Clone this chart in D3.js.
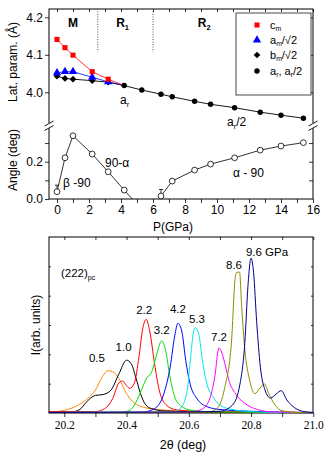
<!DOCTYPE html>
<html lang="en">
<head>
<meta charset="UTF-8">
<title>Lattice parameters, angles and (222) peaks</title>
<script src="https://cdn.jsdelivr.net/npm/d3@7"></script>
<style>
  body { margin: 0; background: #fff; }
  svg { font-family: "Liberation Sans", Arial, sans-serif; }
  .serif { font-family: "Liberation Serif", "Times New Roman", serif; }
</style>
</head>
<body>
<div id="chart"></div>
<script>
// ---- data ----
// lattice parameters (A) vs pressure (GPa)
var pMono = [0, 0.5, 1.0, 2.2, 3.2];
var cM    = [4.141, 4.119, 4.099, 4.055, 4.035];
var aM    = [4.052, 4.055, 4.055, 4.040, 4.028];
var bM    = [4.043, 4.037, 4.035, 4.031, 4.027];
var pRhom = [4.2, 5.3, 6.5, 7.2, 8.6, 9.6, 11.1, 12.7, 14.0, 15.4];
var aR    = [4.018, 4.006, 3.995, 3.988, 3.976, 3.968, 3.959, 3.947, 3.939, 3.931];

// angles (deg)
var pAngLeft  = [0, 0.5, 1.0, 2.2, 3.2, 4.2];
var angLeft   = [0.039, 0.221, 0.339, 0.241, 0.146, 0.048];
var angLeftEnd = [4.7, 0];               // where the 90-alpha line meets the axis
var pAngRight = [6.5, 7.2, 8.6, 9.6, 11.1, 12.7, 14.0, 15.4];
var angRight  = [0.016, 0.096, 0.155, 0.187, 0.221, 0.262, 0.284, 0.302];

var phaseNames = ["M", "R", "R"];
var phaseSubs  = ["", "1", "2"];
var phaseCentres = [1.0, 4.1, 9.2];      // GPa
var phaseBounds  = [2.55, 6.0];          // GPa

// (222)pc peaks: [2theta, intensity]
var specNames = ["0.5", "1.0", "2.2", "3.2", "4.2", "5.3", "7.2", "8.6", "9.6 GPa"];
var spec05 = [[20.15,0.5],[20.2,1.5],[20.25,5],[20.28,9],[20.30,13],[20.32,20],[20.34,24],[20.36,23],[20.38,18],[20.40,11],[20.42,6.5],[20.45,3.5],[20.5,2],[20.6,1],[20.75,0.5],[21.0,0.3]];
var spec10 = [[20.15,0.3],[20.22,0.5],[20.25,2],[20.27,6],[20.30,10],[20.325,10.5],[20.35,13],[20.375,22],[20.40,30],[20.415,28],[20.43,20],[20.445,11],[20.46,5],[20.48,2.5],[20.52,1.2],[20.65,0.5],[21.0,0.2]];
var spec22 = [[20.15,0.8],[20.3,0.8],[20.33,2.5],[20.355,8],[20.375,17],[20.387,18.2],[20.40,15.5],[20.41,14],[20.425,17],[20.44,32],[20.452,48],[20.463,53.2],[20.475,46],[20.49,28],[20.505,13],[20.525,5],[20.56,1.8],[20.65,0.8],[21.0,0.3]];
var spec32 = [[20.15,0.3],[20.38,0.5],[20.41,1.5],[20.43,6],[20.45,14],[20.465,20],[20.48,23],[20.495,32],[20.513,41],[20.525,36],[20.54,20],[20.555,9],[20.575,4],[20.61,1.5],[20.7,0.6],[21.0,0.3]];
var spec42 = [[20.15,0.3],[20.45,0.5],[20.49,2.5],[20.52,11],[20.54,26],[20.555,44],[20.565,51],[20.578,46],[20.59,30],[20.605,16],[20.625,8.5],[20.66,3.5],[20.7,2],[20.8,1],[20.95,0.3],[21.0,0.3]];
var spec53 = [[20.15,0.3],[20.55,0.5],[20.575,3],[20.595,13],[20.605,30],[20.615,46],[20.62,48.5],[20.632,45],[20.642,32],[20.656,18],[20.68,8.5],[20.705,4],[20.74,2],[20.8,0.8],[20.9,0.3],[21.0,0.3]];
var spec72 = [[20.15,0.3],[20.6,0.5],[20.64,2],[20.665,7],[20.683,20],[20.697,37],[20.71,32],[20.72,25],[20.73,18],[20.75,11],[20.78,5.5],[20.82,2],[20.87,0.6],[21.0,0.3]];
var spec86 = [[20.15,0.3],[20.66,0.5],[20.69,2.5],[20.715,14],[20.737,40],[20.75,78],[20.755,80],[20.763,80],[20.77,60],[20.78,36],[20.795,19],[20.812,11],[20.828,14],[20.843,16.5],[20.857,11],[20.877,4.5],[20.9,1.3],[20.95,0.3],[21.0,0.3]];
var spec96 = [[20.15,0.3],[20.6,0.6],[20.7,1],[20.74,4.5],[20.765,17],[20.78,40],[20.79,72],[20.8,88],[20.808,80],[20.818,52],[20.83,26],[20.845,13],[20.862,8.5],[20.882,11],[20.897,12.7],[20.915,7.4],[20.94,3],[20.97,0.8],[21.0,0.3]];
var spectra = [spec05, spec10, spec22, spec32, spec42, spec53, spec72, spec86, spec96];

var specColors = ["#ff8a00", "#000000", "#ff0000", "#00e000", "#0000ff", "#00e8f0", "#ff00ff", "#8c8c00", "#00008c"];
// label offset from each peak top (px)
var specLabelOffsets = [[-11,-9],[-3,-9],[-2,-5],[0,-7],[0,-10],[2,-5],[0,-7],[-3,-3],[16,-2]];

// ---- layout ----
var W = 330, H = 475;
var L = 49, R = 313;
var topY = 9, breakY = 126, midY = 199;
var bTop = 237, bBot = 413;

var svg = d3.select("#chart").append("svg")
  .attr("width", W).attr("height", H);

var xP   = d3.scaleLinear().domain([-0.5, 16]).range([L, R]);
var yLat = d3.scaleLinear().domain([4.0, 4.2]).range([92.3, 17.3]);
var yAng = d3.scaleLinear().domain([0, 0.2]).range([midY, 161.7]);
var xT   = d3.scaleLinear().domain([20.2, 21.0]).range([64.3, 313.3]);
var yI   = d3.scaleLinear().domain([0, 100]).range([bBot, bTop]);

function styleAxis(g, size) {
  g.select(".domain").remove();
  g.selectAll("line").attr("stroke", "#000").attr("stroke-width", 0.8);
  g.selectAll("text").attr("font-size", size).attr("fill", "#000");
}

// text with a subscript
function subText(sel, base, sub, rest, fs) {
  sel.append("tspan").text(base);
  if (sub) sel.append("tspan").attr("font-size", fs * 0.62).attr("dy", 2.5).text(sub);
  if (rest) sel.append("tspan").attr("dy", sub ? -2.5 : 0).text(rest);
  return sel;
}

// ================= upper panel =================
var gUp = svg.append("g");

// axes
gUp.append("g").attr("transform", "translate(0," + midY + ")")
  .call(d3.axisBottom(xP).tickValues(d3.range(0, 17)).tickSize(4).tickPadding(2)
    .tickFormat(function(d){ return d % 2 === 0 ? d : ""; }))
  .call(styleAxis, 12);
gUp.append("g").attr("transform", "translate(0," + topY + ")")
  .call(d3.axisTop(xP).tickValues(d3.range(0, 17)).tickSize(-3).tickFormat(""))
  .call(styleAxis, 12);

gUp.append("g").attr("transform", "translate(" + L + ",0)")
  .call(d3.axisLeft(yLat).tickValues([4.0, 4.1, 4.2]).tickSize(4).tickPadding(2).tickFormat(d3.format(".1f")))
  .call(styleAxis, 12);
gUp.append("g").attr("transform", "translate(" + L + ",0)")
  .call(d3.axisLeft(yAng).tickValues([0, 0.1, 0.2, 0.3]).tickSize(4).tickPadding(2)
    .tickFormat(function(d){ return (d === 0 || d === 0.2) ? d3.format(".1f")(d) : ""; }))
  .call(styleAxis, 12);
gUp.append("g").attr("transform", "translate(" + R + ",0)")
  .call(d3.axisRight(yLat).tickValues([4.0, 4.1, 4.2]).tickSize(-4).tickFormat(""))
  .call(styleAxis, 12);
gUp.append("g").attr("transform", "translate(" + R + ",0)")
  .call(d3.axisRight(yAng).tickValues([0.1, 0.2, 0.3]).tickSize(-4).tickFormat(""))
  .call(styleAxis, 12);

gUp.append("rect").attr("x", L).attr("y", topY).attr("width", R - L).attr("height", midY - topY)
  .attr("fill", "none").attr("stroke", "#000").attr("stroke-width", 1);

// axis breaks
[L, R].forEach(function(x) {
  gUp.append("rect").attr("x", x - 2).attr("y", breakY - 3).attr("width", 4).attr("height", 5).attr("fill", "#fff");
  [-2.5, 2].forEach(function(o) {
    gUp.append("line").attr("x1", x - 4.5).attr("y1", breakY + o + 2.5)
      .attr("x2", x + 4.5).attr("y2", breakY + o - 2.5)
      .attr("stroke", "#000").attr("stroke-width", 0.9);
  });
});

// phase boundaries
phaseBounds.forEach(function(p) {
  gUp.append("line").attr("x1", xP(p)).attr("x2", xP(p)).attr("y1", topY).attr("y2", 52)
    .attr("stroke", "#555").attr("stroke-width", 1).attr("stroke-dasharray", "1,1.5");
});
phaseNames.forEach(function(n, i) {
  var t = gUp.append("text").attr("x", xP(phaseCentres[i])).attr("y", 27)
    .attr("text-anchor", "middle").attr("font-size", 12).attr("font-weight", "bold");
  subText(t, n, phaseSubs[i], "", 12);
});

// lattice lines
var lineLat = d3.line().x(function(d){ return xP(d[0]); }).y(function(d){ return yLat(d[1]); });
var joinPt = [pRhom[0], aR[0]];
var cPts = pMono.map(function(p, i){ return [p, cM[i]]; });
var aPts = pMono.map(function(p, i){ return [p, aM[i]]; });
var bPts = pMono.map(function(p, i){ return [p, bM[i]]; });
var rPts = pRhom.map(function(p, i){ return [p, aR[i]]; });

gUp.append("path").attr("d", lineLat(bPts.concat(rPts))).attr("fill", "none").attr("stroke", "#000").attr("stroke-width", 0.9);
gUp.append("path").attr("d", lineLat(aPts.concat([joinPt]))).attr("fill", "none").attr("stroke", "#0000ff").attr("stroke-width", 0.8);
gUp.append("path").attr("d", lineLat(cPts.concat([joinPt]))).attr("fill", "none").attr("stroke", "#ff0000").attr("stroke-width", 0.8);

var symSquare = d3.symbol().type(d3.symbolSquare).size(26);
var symTri = d3.symbol().type(d3.symbolTriangle).size(30);
var symDiam = d3.symbol().type(d3.symbolSquare).size(22);

gUp.selectAll("path.bm").data(bPts).enter().append("path").attr("class", "bm")
  .attr("d", symDiam).attr("fill", "#000")
  .attr("transform", function(d){ return "translate(" + xP(d[0]) + "," + yLat(d[1]) + ") rotate(45)"; });
gUp.selectAll("path.am").data(aPts).enter().append("path").attr("class", "am")
  .attr("d", symTri).attr("fill", "#0000ff")
  .attr("transform", function(d){ return "translate(" + xP(d[0]) + "," + yLat(d[1]) + ")"; });
gUp.selectAll("path.cm").data(cPts).enter().append("path").attr("class", "cm")
  .attr("d", symSquare).attr("fill", "#ff0000")
  .attr("transform", function(d){ return "translate(" + xP(d[0]) + "," + yLat(d[1]) + ")"; });
gUp.selectAll("circle.ar").data(rPts).enter().append("circle").attr("class", "ar")
  .attr("cx", function(d){ return xP(d[0]); }).attr("cy", function(d){ return yLat(d[1]); })
  .attr("r", 2.7).attr("fill", "#000");

subText(gUp.append("text").attr("x", 120).attr("y", 104).attr("font-size", 12), "a", "r", "", 12);
subText(gUp.append("text").attr("x", 227).attr("y", 126).attr("font-size", 12), "a", "r", "/2", 12);

// legend
var lg = gUp.append("g");
lg.append("rect").attr("x", 236).attr("y", 13).attr("width", 75).attr("height", 82)
  .attr("fill", "#fff").attr("stroke", "#333").attr("stroke-width", 0.9);
var legRows = [
  { y: 25, base: "c", sub: "m", rest: "" },
  { y: 40, base: "a", sub: "m", rest: "/\u221A2" },
  { y: 55, base: "b", sub: "m", rest: "/\u221A2" },
  { y: 71, base: "a", sub: "r", rest: ", a" }
];
lg.append("path").attr("d", symSquare).attr("fill", "#ff0000").attr("transform", "translate(257," + legRows[0].y + ")");
lg.append("path").attr("d", symTri).attr("fill", "#0000ff").attr("transform", "translate(257," + legRows[1].y + ")");
lg.append("path").attr("d", symDiam).attr("fill", "#000").attr("transform", "translate(257," + legRows[2].y + ") rotate(45)");
lg.append("circle").attr("cx", 257).attr("cy", legRows[3].y).attr("r", 2.7).attr("fill", "#000");
legRows.forEach(function(r, i) {
  var t = lg.append("text").attr("x", 270).attr("y", r.y + 3.5).attr("font-size", 11);
  subText(t, r.base, r.sub, r.rest, 11);
  if (i === 3) {
    t.append("tspan").attr("font-size", 11 * 0.62).attr("dy", 2.5).text("r");
    t.append("tspan").attr("dy", -2.5).text("/2");
  }
});

// angle part
var lineAng = d3.line().x(function(d){ return xP(d[0]); }).y(function(d){ return yAng(d[1]); });
var lPts = pAngLeft.map(function(p, i){ return [p, angLeft[i]]; });
var rAPts = pAngRight.map(function(p, i){ return [p, angRight[i]]; });
gUp.append("path").attr("d", lineAng(lPts.concat([angLeftEnd]))).attr("fill", "none").attr("stroke", "#000").attr("stroke-width", 0.8);
gUp.append("path").attr("d", lineAng(rAPts)).attr("fill", "none").attr("stroke", "#000").attr("stroke-width", 0.8);

// small error bars on first points
[lPts[0], rAPts[0]].forEach(function(d) {
  var x = xP(d[0]);
  gUp.append("line").attr("x1", x).attr("x2", x).attr("y1", yAng(d[1])).attr("y2", yAng(d[1] + 0.035)).attr("stroke", "#000").attr("stroke-width", 0.8);
  gUp.append("line").attr("x1", x - 2).attr("x2", x + 2).attr("y1", yAng(d[1] + 0.035)).attr("y2", yAng(d[1] + 0.035)).attr("stroke", "#000").attr("stroke-width", 0.8);
});

gUp.selectAll("circle.ang").data(lPts.concat(rAPts)).enter().append("circle").attr("class", "ang")
  .attr("cx", function(d){ return xP(d[0]); }).attr("cy", function(d){ return yAng(d[1]); })
  .attr("r", 2.9).attr("fill", "#fff").attr("stroke", "#000").attr("stroke-width", 0.8);

gUp.append("text").attr("x", 63).attr("y", 187).attr("font-size", 12).text("\u03B2 -90");
gUp.append("text").attr("x", 105).attr("y", 167).attr("font-size", 12).text("90-\u03B1");
gUp.append("text").attr("x", 233).attr("y", 177).attr("font-size", 12).text("\u03B1 - 90");

// axis titles
gUp.append("text").attr("transform", "translate(17,62) rotate(-90)").attr("text-anchor", "middle")
  .attr("font-size", 12).text("Lat. param. (\u00C5)");
gUp.append("text").attr("transform", "translate(17,160) rotate(-90)").attr("text-anchor", "middle")
  .attr("font-size", 12).text("Angle (deg)");
gUp.append("text").attr("x", 173).attr("y", 231).attr("text-anchor", "middle")
  .attr("font-size", 12).text("P(GPa)");

// ================= lower panel =================
var gLo = svg.append("g");

gLo.append("g").attr("transform", "translate(0," + bBot + ")")
  .call(d3.axisBottom(xT).tickValues(d3.range(2, 11).map(function(k){ return 20 + k / 10; }))
    .tickSize(4).tickPadding(4)
    .tickFormat(function(d){ var k = Math.round(d * 10); return k % 2 === 0 ? d3.format(".1f")(d) : ""; }))
  .call(styleAxis, 11.5)
  .selectAll("text").attr("class", "serif");
gLo.append("g").attr("transform", "translate(0," + bTop + ")")
  .call(d3.axisTop(xT).tickValues(d3.range(2, 11).map(function(k){ return 20 + k / 10; })).tickSize(-3).tickFormat(""))
  .call(styleAxis, 11);
var iTicks = d3.range(1, 6).map(function(k){ return k * 100 / 6; });
gLo.append("g").attr("transform", "translate(" + L + ",0)")
  .call(d3.axisLeft(yI).tickValues(iTicks).tickSize(-2).tickFormat(""))
  .call(styleAxis, 11);
gLo.append("g").attr("transform", "translate(" + R + ",0)")
  .call(d3.axisRight(yI).tickValues(iTicks).tickSize(-2).tickFormat(""))
  .call(styleAxis, 11);

gLo.append("rect").attr("x", L).attr("y", bTop).attr("width", R - L).attr("height", bBot - bTop)
  .attr("fill", "none").attr("stroke", "#000").attr("stroke-width", 1);

var lineSpec = d3.line().curve(d3.curveMonotoneX)
  .x(function(d){ return xT(d[0]); }).y(function(d){ return yI(d[1]); });

gLo.selectAll("path.spec").data(spectra).enter().append("path").attr("class", "spec")
  .attr("d", lineSpec).attr("fill", "none")
  .attr("stroke", function(d, i){ return specColors[i]; }).attr("stroke-width", 1);

spectra.forEach(function(s, i) {
  var pk = s.reduce(function(a, b){ return b[1] > a[1] ? b : a; });
  gLo.append("text").attr("x", xT(pk[0]) + specLabelOffsets[i][0]).attr("y", yI(pk[1]) + specLabelOffsets[i][1])
    .attr("text-anchor", "middle").attr("font-size", 11.5).text(specNames[i]);
});

subText(gLo.append("text").attr("x", 61).attr("y", 277).attr("font-size", 11.5), "(222)", "pc", "", 11.5);

gLo.append("text").attr("transform", "translate(40,325) rotate(-90)").attr("text-anchor", "middle")
  .attr("font-size", 12).text("I(arb. units)");
gLo.append("text").attr("x", 183).attr("y", 449).attr("text-anchor", "middle")
  .attr("font-size", 12.5).text("2\u03B8 (deg)");
</script>
</body>
</html>
